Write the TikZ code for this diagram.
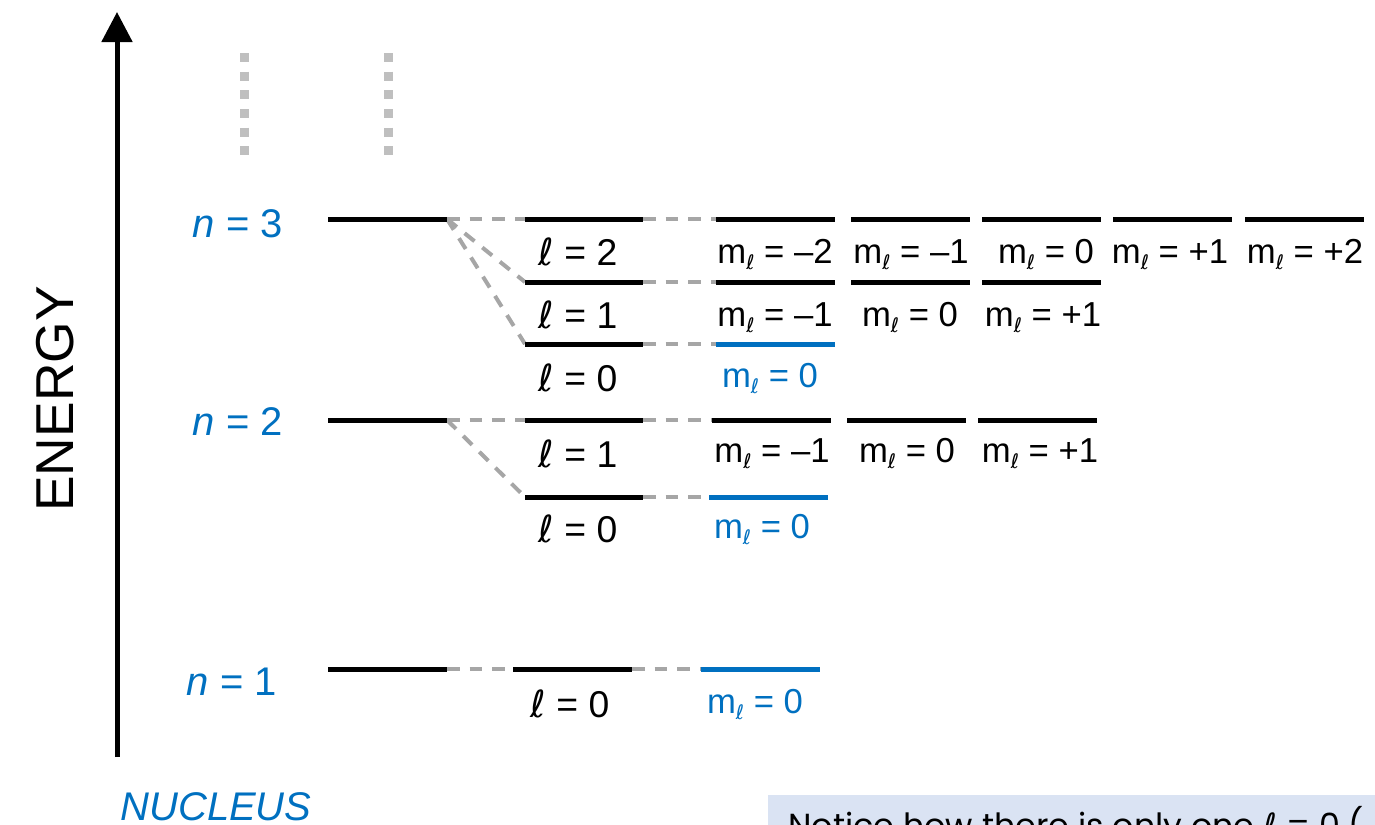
\documentclass[tikz,border=0pt]{standalone}
\usepackage{fontspec}
\setmainfont{Liberation Sans}
\newfontfamily\dv{DejaVu Sans}
\newfontfamily\pop{Poppins}
\usetikzlibrary{arrows.meta}
\definecolor{myblue}{HTML}{0070C0}
\definecolor{dashgray}{HTML}{A6A6A6}
\definecolor{dotgray}{HTML}{BFBFBF}
\definecolor{boxblue}{HTML}{DAE3F3}
\newcommand\lsym{{\dv ℓ}}
\newcommand\ml{m\raisebox{-0.2em}{\fontsize{15}{15}\selectfont\dv ℓ}}
\newcommand\lvl[4]{%
  \coordinate (#1-l) at (#2,#4);
  \coordinate (#1-r) at (#3,#4);
}
\begin{document}
\begin{tikzpicture}[x=0.75pt,y=-0.75pt,
  lev/.style={line width=3.75pt, draw=black},
  blev/.style={line width=3.75pt, draw=myblue},
  conn/.style={draw=dashgray, line width=3pt, dash pattern=on 9.5pt off 7.5pt},
  dotline/.style={draw=dotgray, line width=6.75pt, dash pattern=on 6.75pt off 7.25pt},
  nlab/.style={text=myblue, font=\fontsize{30}{36}\selectfont, anchor=base},
  llab/.style={font=\fontsize{28}{32}\selectfont, anchor=base},
  mlab/.style={font=\fontsize{26}{32}\selectfont, anchor=base},
  bmlab/.style={mlab, text=myblue},
]
\useasboundingbox (0,0) rectangle (1375,825);
\clip (0,0) rectangle (1375,825);

% axis
\coordinate (axb) at (117,757);
\coordinate (axt) at (117,12);
\draw[line width=3.75pt, -{Triangle[length=22.5pt, width=22.5pt]}] (axb) -- (axt);

% dotted continuation
\coordinate (d1t) at (244,53); \coordinate (d1b) at (244,157);
\coordinate (d2t) at (388,53); \coordinate (d2b) at (388,157);
\draw[dotline] (d1t) -- (d1b);
\draw[dotline] (d2t) -- (d2b);

% level coordinates
\lvl{n3}{328}{447}{219}
\lvl{n2}{328}{447}{420}
\lvl{n1}{328}{447}{669}
\lvl{l32}{525}{643}{219}
\lvl{l31}{525}{643}{282}
\lvl{l30}{525}{643}{344}
\lvl{l21}{525}{643}{420}
\lvl{l20}{525}{643}{497}
\lvl{l10}{513}{632}{669}
\lvl{m3a}{716}{835}{219}
\lvl{m3b}{851}{970}{219}
\lvl{m3c}{982}{1101}{219}
\lvl{m3d}{1113}{1232}{219}
\lvl{m3e}{1245}{1364}{219}
\lvl{m31a}{716}{835}{282}
\lvl{m31b}{851}{970}{282}
\lvl{m31c}{982}{1101}{282}
\lvl{m30}{716}{835}{344}
\lvl{m21a}{712}{831}{420}
\lvl{m21b}{847}{966}{420}
\lvl{m21c}{978}{1097}{420}
\lvl{m20}{709}{828}{497}
\lvl{m10}{701}{820}{669}

% connectors
\draw[conn] (n3-r) -- (l32-l);
\draw[conn] (n3-r) -- (l31-l);
\draw[conn] (n3-r) -- (l30-l);
\draw[conn] (l32-r) -- (m3a-l);
\draw[conn] (l31-r) -- (m31a-l);
\draw[conn] (l30-r) -- (m30-l);
\draw[conn] (n2-r) -- (l21-l);
\draw[conn] (n2-r) -- (l20-l);
\draw[conn] (l21-r) -- (m21a-l);
\draw[conn] (l20-r) -- (m20-l);
\draw[conn] (n1-r) -- (l10-l);
\draw[conn] (l10-r) -- (m10-l);

% levels
\foreach \a in {n3,n2,n1,l32,l31,l30,l21,l20,l10,m3a,m3b,m3c,m3d,m3e,m31a,m31b,m31c,m21a,m21b,m21c}
  \draw[lev] (\a-l) -- (\a-r);
\foreach \a in {m30,m20,m10}
  \draw[blev] (\a-l) -- (\a-r);

% n labels
\node[nlab] (tn3) at (238,237) {\textit{n} = 3};
\node[nlab] (tn2) at (238,435) {\textit{n} = 2};
\node[nlab] (tn1) at (232,695) {\textit{n} = 1};

% l labels
\node[llab] (tl32) at (578,265) {\lsym{} = 2};
\node[llab] (tl31) at (578,328) {\lsym{} = 1};
\node[llab] (tl30) at (578,391) {\lsym{} = 0};
\node[llab] (tl21) at (578,467) {\lsym{} = 1};
\node[llab] (tl20) at (578,542) {\lsym{} = 0};
\node[llab] (tl10) at (570,717) {\lsym{} = 0};

% ml labels
\node[mlab] (tm3a) at (775,263) {\ml{} = –2};
\node[mlab] (tm3b) at (911,263) {\ml{} = –1};
\node[mlab] (tm3c) at (1046,263) {\ml{} = 0};
\node[mlab] (tm3d) at (1170,263) {\ml{} = +1};
\node[mlab] (tm3e) at (1305,263) {\ml{} = +2};
\node[mlab] (tm31a) at (775,326) {\ml{} = –1};
\node[mlab] (tm31b) at (910,326) {\ml{} = 0};
\node[mlab] (tm31c) at (1043,326) {\ml{} = +1};
\node[bmlab] (tm30) at (770,387) {\ml{} = 0};
\node[mlab] (tm21a) at (772,462) {\ml{} = –1};
\node[mlab] (tm21b) at (907,462) {\ml{} = 0};
\node[mlab] (tm21c) at (1040,462) {\ml{} = +1};
\node[bmlab] (tm20) at (762,538) {\ml{} = 0};
\node[bmlab] (tm10) at (755,713) {\ml{} = 0};

% axis labels
\node[rotate=90, font=\fontsize{40}{44}\selectfont] (energy) at (55,399) {ENERGY};
\node[text=myblue, font=\itshape\fontsize{30}{36}\selectfont, anchor=base] (nucleus) at (216,820) {NUCLEUS};

% note box
\fill[boxblue] (768,795) rectangle (1380,860);
\node[anchor=base west, inner sep=0pt, font=\pop\fontsize{25}{30}\selectfont] (note) at (788,837) {Notice how there is only one {\dv ℓ} = 0 (};
\end{tikzpicture}
\end{document}
